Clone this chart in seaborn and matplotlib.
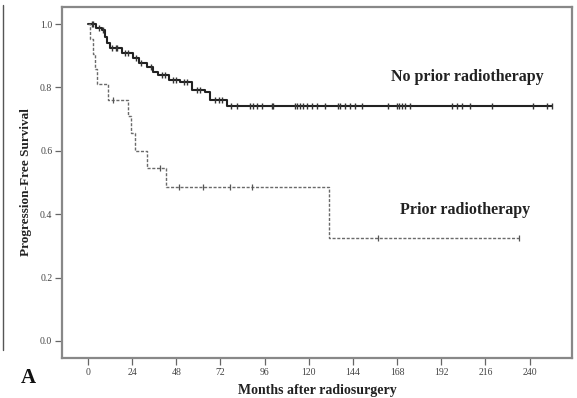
import numpy as np
import pandas as pd
import matplotlib
matplotlib.use("Agg")
import matplotlib.pyplot as plt
import seaborn as sns
from matplotlib.lines import Line2D

# ---- data ----
noprior_times = [0, 4.3, 7.4, 9.2, 10.5, 12, 18.3, 24.5, 27.5, 32, 35.5, 38, 44, 50, 56.5, 63.6, 66.5, 75.5, 252]
noprior_surv = [1.0, 0.987, 0.98, 0.96, 0.94, 0.925, 0.908, 0.893, 0.877, 0.864, 0.849, 0.839, 0.823, 0.817, 0.792, 0.786, 0.76, 0.74, 0.74]
noprior_censor = [2, 3, 6, 8, 13, 15, 16, 20, 22, 26, 29, 34, 40, 42, 46, 48, 52, 54, 59, 61, 69, 71, 73,
                  77.7, 81, 88, 89.7, 91.8, 94.6, 100, 100.5, 112.5, 113.6, 115.2, 117, 119, 121.7, 124.5,
                  128.8, 136, 137, 139.7, 142.4, 145, 148.9, 163, 168, 169, 170.7, 172.3, 175, 197.8,
                  200.5, 203.3, 207.6, 219.6, 241.8, 249.5, 252]

prior_times = [0, 1, 2.5, 4, 5, 11, 22, 23.5, 25.5, 32, 42.3, 130.7, 234]
prior_surv = [1.0, 0.952, 0.905, 0.857, 0.81, 0.762, 0.711, 0.655, 0.60, 0.545, 0.485, 0.325, 0.325]
prior_censor = [13.7, 39, 49.5, 62.5, 77, 89, 157.7, 234]

x_ticks = [0, 24, 48, 72, 96, 120, 144, 168, 192, 216, 240]
y_ticks = [0.0, 0.2, 0.4, 0.6, 0.8, 1.0]

sns.set_theme(style="white")
plt.rcParams["font.family"] = ["Liberation Serif", "DejaVu Serif"]

fig = plt.figure(figsize=(5.77, 3.98), dpi=100)
ax = fig.add_axes([62 / 577, 1 - 358 / 398, (572 - 62) / 577, (358 - 7) / 398])


def step_at(times, surv, t):
    idx = np.searchsorted(np.asarray(times), np.asarray(t), side="right") - 1
    return np.asarray(surv)[idx]


df_np = pd.DataFrame({"t": noprior_times, "s": noprior_surv})
df_p = pd.DataFrame({"t": prior_times, "s": prior_surv})

sns.lineplot(data=df_np, x="t", y="s", ax=ax, drawstyle="steps-post", color="#222222",
             linewidth=1.5, estimator=None, sort=False)
sns.lineplot(data=df_p, x="t", y="s", ax=ax, drawstyle="steps-post", color="#6a6a6a",
             linewidth=1.0, estimator=None, sort=False, dashes=False)
ax.lines[-1].set_dashes([2.2, 1.2])

cen_np = pd.DataFrame({"t": noprior_censor, "s": step_at(noprior_times, noprior_surv, noprior_censor)})
cen_p = pd.DataFrame({"t": prior_censor, "s": step_at(prior_times, prior_surv, prior_censor)})
ax.plot(cen_np["t"], cen_np["s"], linestyle="none", marker="|", markersize=4.5,
        markeredgewidth=1.0, color="#333333")
ax.plot(cen_p["t"], cen_p["s"], linestyle="none", marker="|", markersize=4.5,
        markeredgewidth=0.9, color="#555555")

ax.set_xlim(-14.1, 263)
ax.set_ylim(-0.054, 1.054)
ax.set_xticks(x_ticks)
ax.set_xticklabels([str(v) for v in x_ticks])
ax.set_yticks(y_ticks)
ax.set_yticklabels([f"{v:.1f}" for v in y_ticks])
ax.tick_params(axis="both", which="major", direction="out", length=5, width=0.9,
               color="#666666", labelsize=7, labelcolor="#444444", left=True, bottom=True, pad=2)

for sp in ax.spines.values():
    sp.set_visible(True)
    sp.set_color("#888888")
    sp.set_linewidth(1.6)

ax.set_xlabel("Months after radiosurgery", fontsize=10, fontweight="bold", color="#222222", labelpad=5)
ax.set_ylabel("Progression-Free Survival", fontsize=9.5, fontweight="bold", color="#222222", labelpad=6)

ax.text(206, 0.833, "No prior radiotherapy", fontsize=11.5, fontweight="bold", color="#222222",
        ha="center", va="center")
ax.text(205, 0.413, "Prior radiotherapy", fontsize=11.5, fontweight="bold", color="#222222",
        ha="center", va="center")

fig.text(28 / 577, 1 - 378 / 398, "A", fontsize=15, fontweight="bold", color="#111111",
         ha="center", va="center")
fig.add_artist(Line2D([3 / 577, 3 / 577], [1 - 5 / 398, 1 - 350 / 398], color="#555555", linewidth=1.0))

fig.savefig("out.png", dpi=100)
